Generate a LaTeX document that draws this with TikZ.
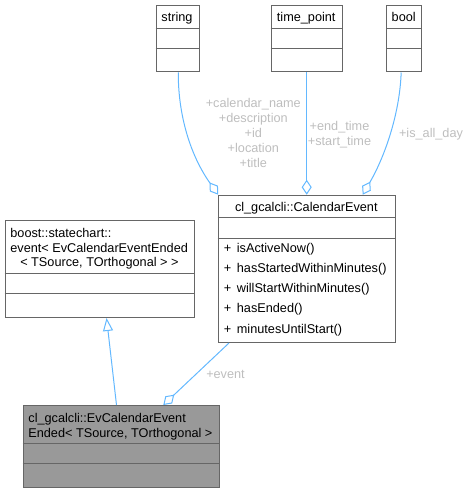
\documentclass[tikz,border=0pt]{standalone}
\usepackage{fontspec}
\setmainfont{Liberation Sans}
\usetikzlibrary{arrows.meta,calc}
\definecolor{boxline}{HTML}{666666}
\definecolor{evfill}{HTML}{999999}
\definecolor{edgeblue}{HTML}{63B8FF}
\definecolor{lblgray}{HTML}{BEBEBE}
\begin{document}
\begin{tikzpicture}[x=1pt,y=-1pt,
  every node/.style={font=\fontsize{12.7}{14.5}\selectfont},
  umlbox/.style={draw=boxline,line width=1pt,fill=white,inner sep=0pt,anchor=north west},
  txt/.style={inner sep=0pt,anchor=base west,text=black},
  ctxt/.style={inner sep=0pt,anchor=base,text=black},
  lbl/.style={inner sep=0pt,anchor=base,text=lblgray,align=center},
  edge/.style={draw=edgeblue,line width=1pt},
  agg/.style={edge,-{Diamond[open,length=15pt,width=10pt]}},
  inh/.style={edge,-{Triangle[open,length=13pt,width=10pt]}},
  divl/.style={draw=boxline,line width=1pt}]
\useasboundingbox (0,0) rectangle (469,492);

% string
\node[umlbox,minimum width=43pt,minimum height=66.5pt] (string) at (155.5,5) {};
\draw[divl] (155.5,28.3) -- (198.5,28.3) (155.5,48.7) -- (198.5,48.7);
\node[ctxt] (tstring) at (177,22) {string};

% time_point
\node[umlbox,minimum width=71pt,minimum height=66.5pt] (tp) at (270.7,5) {};
\draw[divl] (270.7,28.3) -- (341.7,28.3) (270.7,48.7) -- (341.7,48.7);
\node[ctxt] (ttp) at (306.2,22) {time\_point};

% bool
\node[umlbox,minimum width=34.7pt,minimum height=66.5pt] (bool) at (386.3,5) {};
\draw[divl] (386.3,28.3) -- (421,28.3) (386.3,48.7) -- (421,48.7);
\node[ctxt] (tbool) at (403.7,22) {bool};

% CalendarEvent
\node[umlbox,minimum width=177.3pt,minimum height=147.3pt] (ce) at (217.7,194.7) {};
\draw[divl] (217.7,217.7) -- (395,217.7) (217.7,238.3) -- (395,238.3);
\node[ctxt] (tce) at (306.3,211.8) {cl\_gcalcli::CalendarEvent};
\node[txt] (m1) at (223.7,252.6) {\makebox[13pt][l]{+}isActiveNow()};
\node[txt] (m2) at (223.7,272.8) {\makebox[13pt][l]{+}hasStartedWithinMinutes()};
\node[txt] (m3) at (223.7,292.7) {\makebox[13pt][l]{+}willStartWithinMinutes()};
\node[txt] (m4) at (223.7,312.7) {\makebox[13pt][l]{+}hasEnded()};
\node[txt] (m5) at (223.7,333.1) {\makebox[13pt][l]{+}minutesUntilStart()};

% boost event
\node[umlbox,minimum width=189.3pt,minimum height=96.7pt] (boost) at (4.7,220.3) {};
\draw[divl] (4.7,273.3) -- (194,273.3) (4.7,293.7) -- (194,293.7);
\node[txt] (b1) at (10.2,237.6) {boost::statechart::};
\node[txt] (b2) at (10.2,252.1) {event< EvCalendarEventEnded};
\node[ctxt] (b3) at (99.4,266.6) {< TSource, TOrthogonal > >};

% EvCalendarEventEnded
\node[umlbox,fill=evfill,minimum width=196.3pt,minimum height=81.7pt] (ev) at (22.7,405) {};
\draw[divl] (22.7,443.7) -- (219,443.7) (22.7,463.7) -- (219,463.7);
\node[txt] (e1) at (28.2,422.6) {cl\_gcalcli::EvCalendarEvent};
\node[txt] (e2) at (28.2,437.6) {Ended< TSource, TOrthogonal >};

% connectors
\draw[agg] ([xshift=0.8pt]string.south) .. controls (178,110) and (188,152) .. ([xshift=0.5pt]ce.north west);
\draw[agg] (tp.south) -- (ce.north -| tp.south);
\draw[agg] ([xshift=-3pt]bool.south) .. controls (400,110) and (386.6,153.4) .. ([xshift=-33.3pt]ce.north east);
\draw[agg] ([xshift=11.3pt]ce.south west) -- ([xshift=140.6pt]ev.north west);
\draw[inh] ([xshift=-4.85pt]ev.north) -- ([xshift=6.7pt]boost.south);

% labels
\node[lbl] (l1) at (253.3,107.5) {+calendar\_name};
\node[lbl] (l2) at (253.3,122.5) {+description};
\node[lbl] (l3) at (253.3,137.5) {+id};
\node[lbl] (l4) at (253.3,152.5) {+location};
\node[lbl] (l5) at (253.3,167.5) {+title};
\node[lbl] (l6) at (339.5,130.5) {+end\_time};
\node[lbl] (l7) at (339.5,145) {+start\_time};
\node[lbl] (l8) at (431,137.5) {+is\_all\_day};
\node[lbl] (l9) at (225.5,378) {+event};
\end{tikzpicture}
\end{document}
